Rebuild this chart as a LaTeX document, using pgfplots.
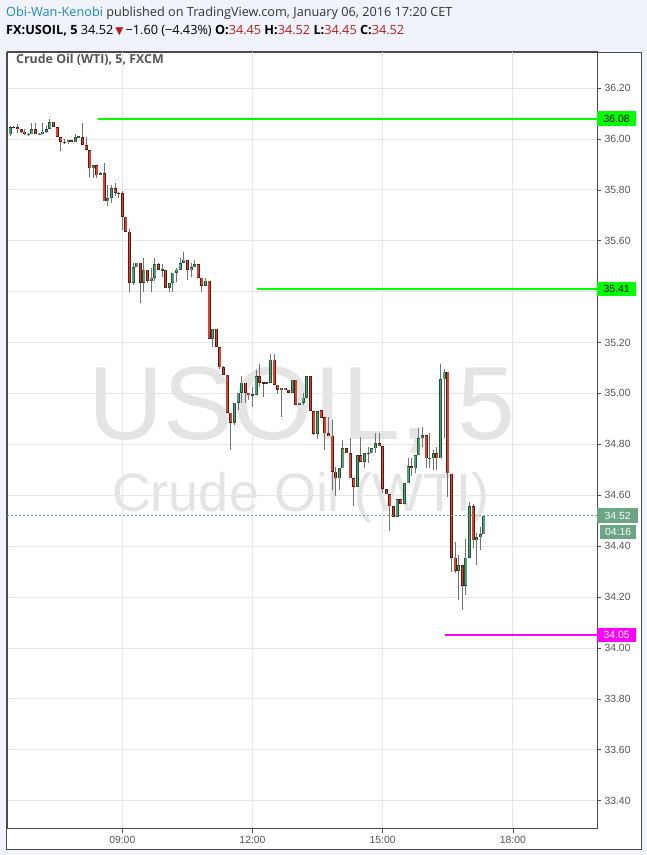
\documentclass[border=0pt]{standalone}
\usepackage{fontspec}
\setmainfont{Open Sans}
\newfontfamily\arial{Liberation Sans}
\newfontfamily\djv{DejaVu Sans}
\usepackage{pgfplots}
\pgfplotsset{compat=1.18}
\usepackage{pgfplotstable}
\definecolor{bgc}{HTML}{F0F3FA}
\definecolor{framec}{HTML}{4A4A4A}
\definecolor{gridc}{HTML}{E6E6E6}
\definecolor{tickc}{HTML}{555555}
\definecolor{upfill}{HTML}{53A077}
\definecolor{upline}{HTML}{225437}
\definecolor{dnfill}{HTML}{D8432F}
\definecolor{dnline}{HTML}{5B1A13}
\definecolor{wickc}{HTML}{737373}
\definecolor{lvlgreen}{HTML}{00FF00}
\definecolor{lvlmag}{HTML}{FF00FF}
\definecolor{lastc}{HTML}{6BA583}
\definecolor{author}{HTML}{1E8BC3}
\definecolor{valred}{HTML}{B71C1C}
\definecolor{wm}{HTML}{E4E4E4}
\definecolor{titlec}{HTML}{555555}
\definecolor{headc}{HTML}{333333}

\pgfplotstableread{
n o h l c
1 36.018 36.050 36.011 36.047
2 36.047 36.049 36.044 36.045
3 36.047 36.058 36.024 36.039
4 36.039 36.039 36.024 36.028
5 36.028 36.039 36.016 36.018
6 36.018 36.024 36.011 36.019
7 36.018 36.061 36.018 36.039
8 36.039 36.061 36.018 36.018
9 36.018 36.022 36.017 36.021
10 36.018 36.061 36.018 36.028
11 36.028 36.050 36.024 36.039
12 36.039 36.080 36.039 36.067
13 36.067 36.067 36.047 36.047
14 36.047 36.047 36.008 36.008
15 36.008 36.008 35.951 35.988
16 35.988 36.000 35.980 35.987
17 35.987 35.995 35.979 35.995
18 35.995 35.995 35.987 35.987
19 35.987 36.021 35.987 36.008
20 36.008 36.010 36.006 36.008
21 36.008 36.061 35.976 35.976
22 35.976 36.008 35.957 35.957
23 35.957 35.957 35.850 35.884
24 35.884 35.897 35.845 35.897
25 35.897 35.897 35.846 35.857
26 35.857 35.872 35.857 35.866
27 35.866 35.907 35.755 35.755
28 35.755 35.820 35.738 35.767
29 35.767 35.820 35.747 35.807
30 35.807 35.826 35.776 35.787
31 35.787 35.793 35.767 35.786
32 35.787 35.797 35.642 35.695
33 35.695 35.695 35.636 35.636
34 35.636 35.645 35.399 35.434
35 35.434 35.511 35.428 35.495
36 35.495 35.513 35.495 35.513
37 35.513 35.513 35.355 35.434
38 35.434 35.534 35.399 35.486
39 35.486 35.486 35.434 35.443
40 35.443 35.493 35.399 35.455
41 35.455 35.534 35.443 35.507
42 35.507 35.513 35.486 35.486
43 35.486 35.507 35.458 35.487
44 35.486 35.486 35.414 35.414
45 35.414 35.434 35.399 35.434
46 35.434 35.474 35.399 35.474
47 35.474 35.493 35.438 35.486
48 35.486 35.534 35.486 35.513
49 35.513 35.554 35.513 35.526
50 35.526 35.526 35.445 35.486
51 35.486 35.513 35.458 35.495
52 35.495 35.526 35.495 35.507
53 35.507 35.507 35.455 35.455
54 35.455 35.455 35.399 35.422
55 35.422 35.455 35.422 35.443
56 35.443 35.443 35.214 35.214
57 35.214 35.254 35.184 35.254
58 35.254 35.254 35.182 35.182
59 35.182 35.182 35.097 35.103
60 35.103 35.106 35.071 35.073
61 35.073 35.073 34.924 34.924
62 34.924 34.924 34.776 34.884
63 34.884 34.963 34.877 34.963
64 34.963 35.003 34.933 35.003
65 35.003 35.067 34.963 35.042
66 35.042 35.042 34.963 35.003
67 35.003 35.003 34.973 34.995
68 34.992 35.025 34.946 34.996
69 34.995 35.093 34.995 35.067
70 35.067 35.114 35.025 35.042
71 35.042 35.043 34.986 35.041
72 35.041 35.044 35.040 35.042
73 35.042 35.153 35.042 35.133
74 35.133 35.153 35.034 35.034
75 35.034 35.034 34.999 35.014
76 35.014 35.022 34.907 35.022
77 35.022 35.022 35.014 35.014
78 35.014 35.014 35.003 35.003
79 35.003 35.054 35.003 35.054
80 35.054 35.054 34.956 34.956
81 34.956 34.963 34.956 34.963
82 34.963 35.003 34.956 34.983
83 34.983 35.067 34.983 35.067
84 35.067 35.067 34.931 34.931
85 34.931 34.931 34.835 34.842
86 34.842 34.931 34.820 34.931
87 34.935 34.935 34.905 34.905
88 34.906 34.906 34.778 34.843
89 34.843 34.906 34.834 34.834
90 34.834 34.895 34.621 34.693
91 34.693 34.712 34.597 34.667
92 34.667 34.706 34.621 34.706
93 34.706 34.817 34.706 34.784
94 34.784 34.784 34.765 34.765
95 34.765 34.824 34.667 34.667
96 34.667 34.667 34.556 34.634
97 34.634 34.758 34.634 34.758
98 34.758 34.830 34.732 34.732
99 34.732 34.765 34.706 34.765
100 34.765 34.791 34.728 34.767
101 34.765 34.784 34.765 34.784
102 34.784 34.843 34.765 34.804
103 34.804 34.843 34.793 34.793
104 34.793 34.793 34.608 34.624
105 34.624 34.624 34.604 34.604
106 34.604 34.604 34.458 34.556
107 34.556 34.556 34.514 34.514
108 34.514 34.584 34.514 34.584
109 34.584 34.584 34.566 34.566
110 34.566 34.647 34.566 34.647
111 34.647 34.745 34.647 34.715
112 34.715 34.745 34.677 34.706
113 34.706 34.757 34.686 34.757
114 34.757 34.863 34.757 34.824
115 34.824 34.869 34.791 34.835
116 34.835 34.835 34.706 34.745
117 34.745 34.843 34.706 34.746
118 34.745 34.778 34.699 34.765
119 34.765 34.791 34.699 34.745
120 34.745 35.115 34.745 35.055
121 35.055 35.094 34.824 35.086
122 35.086 35.086 34.595 34.686
123 34.685 34.685 34.299 34.355
124 34.355 34.417 34.296 34.303
125 34.303 34.364 34.187 34.324
126 34.324 34.324 34.148 34.244
127 34.244 34.427 34.207 34.355
128 34.355 34.574 34.355 34.557
129 34.557 34.567 34.391 34.423
130 34.423 34.450 34.325 34.435
131 34.435 34.476 34.384 34.447
132 34.447 34.520 34.447 34.520
}\candles

\newcommand{\tf}{\arial\fontsize{10.4}{12}\selectfont}

\begin{document}
\begin{tikzpicture}
\useasboundingbox (0,0) rectangle (647pt,855pt);
\fill[bgc] (0,0) rectangle (647pt,855pt);
\filldraw[fill=white, draw=framec, line width=0.8pt] (6.5pt,6pt) rectangle (641pt,803pt);
% header
\node[anchor=base west, inner sep=0pt, text=headc] at (6pt,838pt)
  {\fontsize{12.7}{14}\selectfont\textcolor{author}{Obi-Wan-Kenobi} published on TradingView.com, January 06, 2016 17:20 CET};
\node[anchor=base west, inner sep=0pt, text=black] at (6pt,820.5pt)
  {\fontsize{12.7}{14}\selectfont\textbf{FX:USOIL, 5} 34.52\,{\djv\fontsize{10.5}{12}\selectfont\textcolor{valred}{▼}}\,−1.60 (−4.43\%) \textbf{O:}\textcolor{valred}{34.45} \textbf{H:}\textcolor{valred}{34.52} \textbf{L:}\textcolor{valred}{34.45} \textbf{C:}\textcolor{valred}{34.52}};
% watermark
\node[anchor=base, inner sep=0pt, text=wm] at (302pt,415pt) {\arial\fontsize{104}{110}\selectfont USOIL, 5};
\node[anchor=base, inner sep=0pt, text=wm] at (301pt,343pt) {\arial\fontsize{54}{60}\selectfont Crude Oil (WTI)};
\begin{axis}[
  at={(7pt,26pt)}, anchor=south west,
  scale only axis, width=590pt, height=777pt,
  xmin=6.3433, xmax=19.938, ymin=33.2885, ymax=36.3415,
  axis line style={draw=framec, line width=1pt},
  xtick={9,12,15,18}, xticklabels={09:00,12:00,15:00,18:00},
  ytick={33.4,33.6,33.8,34,34.2,34.4,34.6,34.8,35,35.2,35.4,35.6,35.8,36,36.2},
  xtick pos=left, ytick pos=right, yticklabel pos=right,
  tick align=outside, major tick length=4pt,
  tick style={draw=tickc, line width=0.6pt},
  grid=major, major grid style={draw=gridc, line width=0.8pt},
  tick label style={font=\tf, text=tickc},
  /pgf/number format/fixed, /pgf/number format/fixed zerofill,
  /pgf/number format/precision=2, /pgf/number format/assume math mode=true,
  clip mode=individual,
  unbounded coords=discard,
  candle/.style={draw=none, mark=none, error bars/y dir=both, error bars/y explicit,
     error bars/error mark=none},
]
% wicks
\addplot[candle, error bars/error bar style={draw=wickc, line width=1pt}]
  table[x expr={6.41667+(\thisrow{n}-1)/12}, y expr={(\thisrow{h}+\thisrow{l})/2},
        y error expr={(\thisrow{h}-\thisrow{l})/2}] {\candles};
% green bodies
\addplot[candle, restrict expr to domain={\thisrow{c}-\thisrow{o}}{0:10},
  error bars/error bar style={draw=upline, line width=3pt}]
  table[x expr={6.41667+(\thisrow{n}-1)/12}, y expr={(\thisrow{o}+\thisrow{c})/2},
        y error expr={max(abs(\thisrow{c}-\thisrow{o})/2,0.0016)}] {\candles};
\addplot[candle, restrict expr to domain={\thisrow{c}-\thisrow{o}}{0:10},
  error bars/error bar style={draw=upfill, line width=1.5pt}]
  table[x expr={6.41667+(\thisrow{n}-1)/12}, y expr={(\thisrow{o}+\thisrow{c})/2},
        y error expr={max(abs(\thisrow{c}-\thisrow{o})/2-0.0025,0)}] {\candles};
% red bodies
\addplot[candle, restrict expr to domain={\thisrow{o}-\thisrow{c}}{0.00001:10},
  error bars/error bar style={draw=dnline, line width=3pt}]
  table[x expr={6.41667+(\thisrow{n}-1)/12}, y expr={(\thisrow{o}+\thisrow{c})/2},
        y error expr={max(abs(\thisrow{c}-\thisrow{o})/2,0.0016)}] {\candles};
\addplot[candle, restrict expr to domain={\thisrow{o}-\thisrow{c}}{0.00001:10},
  error bars/error bar style={draw=dnfill, line width=1.5pt}]
  table[x expr={6.41667+(\thisrow{n}-1)/12}, y expr={(\thisrow{o}+\thisrow{c})/2},
        y error expr={max(abs(\thisrow{c}-\thisrow{o})/2-0.0025,0)}] {\candles};
% levels
\addplot[lvlgreen, line width=2pt] coordinates {(8.44,36.08) (19.938,36.08)};
\addplot[lvlgreen, line width=2pt] coordinates {(12.10,35.41) (19.938,35.41)};
\addplot[lvlmag, line width=2pt] coordinates {(16.435,34.05) (19.938,34.05)};
\addplot[lastc, line width=0.8pt, dash pattern=on 2pt off 2pt] coordinates {(6.3433,34.52) (19.938,34.52)};
\coordinate (A) at (axis cs:19.938,36.08);
\coordinate (B) at (axis cs:19.938,35.41);
\coordinate (C) at (axis cs:19.938,34.05);
\coordinate (D) at (axis cs:19.938,34.52);
\end{axis}
\node[anchor=base west, inner sep=0pt, text=titlec] at (16pt,791pt)
  {\fontsize{12.4}{14}\selectfont\bfseries Crude Oil (WTI), 5, FXCM};
\tikzset{lbl/.style={anchor=west, inner sep=0pt, minimum width=39pt, minimum height=14.5pt, font=\tf}}
\node[lbl, fill=lvlgreen, text=black] at (A) {36.08};
\node[lbl, fill=lvlgreen, text=black] at (B) {35.41};
\node[lbl, fill=lvlmag, text=white] at (C) {34.05};
\node[lbl, fill=lastc, text=white, minimum width=41pt] at (D) {34.52};
\node[lbl, fill=lastc, text=white, minimum width=36pt, anchor=north west] at ([xshift=3pt,yshift=-9pt]D) {04:16};
\end{tikzpicture}
\end{document}
